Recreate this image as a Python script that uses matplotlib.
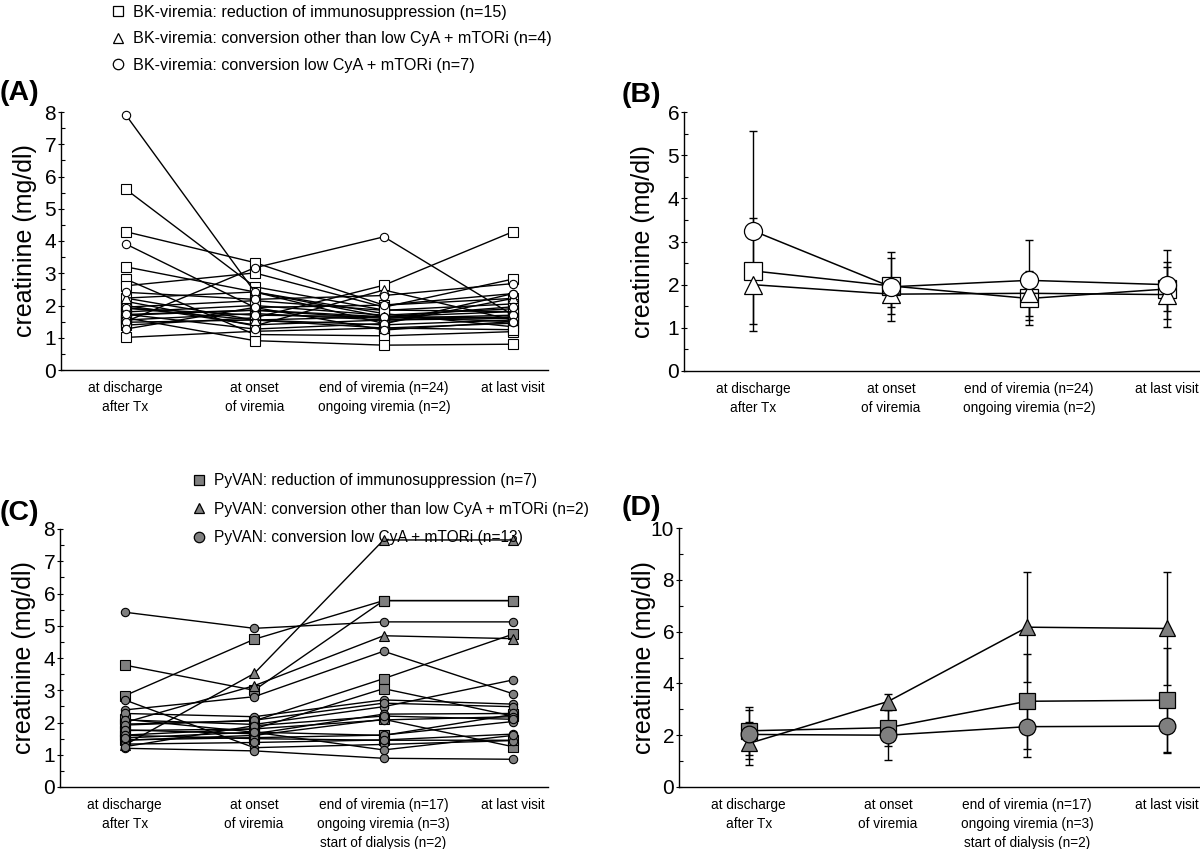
import matplotlib
matplotlib.use("Agg")
import matplotlib.pyplot as plt
from matplotlib.lines import Line2D
from matplotlib.ticker import MultipleLocator

plt.rcParams['font.family'] = ['Liberation Sans', 'DejaVu Sans']

# x categories
cats_bk = ["at discharge\nafter Tx", "at onset\nof viremia",
           "end of viremia (n=24)\nongoing viremia (n=2)", "at last visit"]
cats_pv = ["at discharge\nafter Tx", "at onset\nof viremia",
           "end of viremia (n=17)\nongoing viremia (n=3)\nstart of dialysis (n=2)", "at last visit"]

# (A) BK-viremia, individual patients (mg/dl)
bk_square = [
    [5.61, 2.58, 1.86, 1.81],
    [4.29, 3.33, 2.01, 2.22],
    [3.20, 2.42, 1.75, 1.34],
    [2.82, 1.10, 1.06, 1.19],
    [2.61, 3.01, 1.95, 2.82],
    [2.23, 1.55, 1.30, 1.45],
    [1.39, 1.62, 2.63, 4.29],
    [1.62, 0.91, 0.77, 0.80],
    [1.01, 1.20, 1.30, 1.25],
    [1.55, 1.75, 1.55, 1.65],
    [1.70, 1.85, 1.60, 1.70],
    [1.80, 2.00, 1.70, 1.90],
    [1.48, 1.55, 1.40, 1.55],
    [1.95, 2.15, 1.85, 2.05],
    [2.00, 1.40, 1.55, 1.60],
]
bk_triangle = [
    [2.13, 1.37, 2.48, 1.55],
    [1.92, 1.55, 1.65, 1.81],
    [2.23, 2.42, 1.44, 2.22],
    [1.72, 1.86, 1.65, 1.62],
]
bk_circle = [
    [7.92, 2.42, 1.65, 1.50],
    [3.91, 1.94, 2.01, 2.37],
    [1.50, 3.17, 4.13, 1.70],
    [2.41, 2.19, 2.31, 2.68],
    [1.92, 1.70, 1.65, 1.96],
    [1.73, 1.27, 1.44, 2.37],
    [1.27, 1.94, 1.24, 1.50],
]

# (B) BK-viremia, mean and SD
bk_mean_square = [2.32, 1.97, 1.68, 1.90]
bk_sd_square = [1.23, 0.64, 0.62, 0.52]
bk_mean_triangle = [2.00, 1.78, 1.80, 1.77]
bk_sd_triangle = [0.18, 0.30, 0.52, 0.75]
bk_mean_circle = [3.25, 1.95, 2.10, 2.00]
bk_sd_circle = [2.32, 0.80, 0.93, 0.80]

# (C) PyVAN, individual patients
pv_square = [
    [3.78, 3.00, 5.78, 5.78],
    [2.83, 4.58, 5.78, 5.78],
    [1.95, 2.05, 3.36, 4.74],
    [1.75, 1.80, 3.05, 2.20],
    [1.45, 1.60, 2.10, 1.25],
    [1.60, 1.50, 1.45, 1.45],
    [2.10, 1.70, 1.60, 2.25],
]
pv_triangle = [
    [1.30, 3.52, 7.66, 7.66],
    [2.00, 3.14, 4.69, 4.60],
]
pv_circle = [
    [5.42, 4.92, 5.12, 5.12],
    [2.39, 2.80, 4.21, 2.89],
    [2.70, 1.22, 1.32, 1.44],
    [2.28, 2.18, 2.70, 2.57],
    [2.08, 1.94, 2.49, 3.32],
    [1.92, 2.07, 2.60, 2.49],
    [1.77, 1.65, 2.26, 2.28],
    [1.61, 1.80, 2.08, 2.18],
    [1.46, 1.53, 1.61, 2.03],
    [1.33, 1.38, 1.46, 1.64],
    [1.20, 1.12, 0.89, 0.86],
    [1.25, 1.90, 2.20, 2.10],
    [1.52, 1.70, 1.15, 1.60],
]

# (D) PyVAN, mean and SD
pv_mean_square = [2.17, 2.29, 3.31, 3.35]
pv_sd_square = [0.93, 0.70, 1.83, 2.00]
pv_mean_triangle = [1.68, 3.30, 6.17, 6.12]
pv_sd_triangle = [0.84, 0.30, 2.12, 2.18]
pv_mean_circle = [2.03, 2.00, 2.33, 2.35]
pv_sd_circle = [0.93, 0.97, 1.16, 1.05]

legend_bk = ["BK-viremia: reduction of immunosuppression (n=15)",
             "BK-viremia: conversion other than low CyA + mTORi (n=4)",
             "BK-viremia: conversion low CyA + mTORi (n=7)"]
legend_pv = ["PyVAN: reduction of immunosuppression (n=7)",
             "PyVAN: conversion other than low CyA + mTORi (n=2)",
             "PyVAN: conversion low CyA + mTORi (n=13)"]

GRAY = '#7f7f7f'
x = [0, 1, 2, 3]

fig = plt.figure(figsize=(12, 8.49), dpi=100)
W, H = 1200, 849


def make_ax(left, right, top, bottom):
    return fig.add_axes([left / W, 1 - bottom / H, (right - left) / W, (bottom - top) / H])


def style(ax, cats, ymax, major, minor, xl, labx):
    for s in ['top', 'right']:
        ax.spines[s].set_visible(False)
    for s in ['left', 'bottom']:
        ax.spines[s].set_linewidth(1.0)
    ax.set_ylim(0, ymax)
    ax.set_xlim(*xl)
    ax.yaxis.set_major_locator(MultipleLocator(major))
    ax.yaxis.set_minor_locator(MultipleLocator(minor))
    ax.tick_params(axis='y', which='major', direction='inout', length=5, width=0.8,
                   labelsize=15, pad=1)
    ax.tick_params(axis='y', which='minor', direction='in', length=3, width=0.8)
    ax.set_xticks(x)
    ax.set_xticklabels(cats, fontsize=9.8, linespacing=1.45)
    ax.tick_params(axis='x', length=0, pad=8)
    ax.set_ylabel("creatinine (mg/dl)", fontsize=18)
    ax.yaxis.set_label_coords(labx, 0.5)


def spaghetti(ax, rows, marker, fc):
    for r in rows:
        ax.plot(x, r, color='black', lw=1.0, marker=marker, ms=6.5 if marker != 'o' else 6,
                mfc=fc, mec='black', mew=0.8, clip_on=False, zorder=3)


def means(ax, groups, fc, ms):
    for m, sd, mk in groups:
        ax.errorbar(x, m, yerr=sd, fmt='none', ecolor='black', elinewidth=1.0,
                    capsize=3, capthick=1.0, zorder=2)
    for m, sd, mk in groups:
        ax.plot(x, m, color='black', lw=1.1, marker=mk, ms=ms, mfc=fc,
                mec='black', mew=0.9, zorder=3, clip_on=False)


# (A)
axA = make_ax(61, 548, 112, 370)
spaghetti(axA, bk_square, 's', 'white')
spaghetti(axA, bk_triangle, '^', 'white')
spaghetti(axA, bk_circle, 'o', 'white')
style(axA, cats_bk, 8, 1, 0.5, (-0.5, 3.27), -0.05)

# (B)
axB = make_ax(684, 1200, 112, 371)
means(axB, [(bk_mean_square, bk_sd_square, 's'),
            (bk_mean_triangle, bk_sd_triangle, '^'),
            (bk_mean_circle, bk_sd_circle, 'o')], 'white', 13)
style(axB, cats_bk, 6, 1, 0.5, (-0.5, 3.24), -0.056)

# (C)
axC = make_ax(60, 548, 529, 787)
spaghetti(axC, pv_square, 's', GRAY)
spaghetti(axC, pv_triangle, '^', GRAY)
spaghetti(axC, pv_circle, 'o', GRAY)
style(axC, cats_pv, 8, 1, 0.5, (-0.5, 3.27), -0.05)

# (D)
axD = make_ax(679, 1200, 528, 787)
means(axD, [(pv_mean_square, pv_sd_square, 's'),
            (pv_mean_triangle, pv_sd_triangle, '^'),
            (pv_mean_circle, pv_sd_circle, 'o')], GRAY, 12)
style(axD, cats_pv, 10, 2, 1, (-0.5, 3.24), -0.044)


# legends
def legend(labels, fc, anchor, size, spacing):
    handles = [Line2D([], [], ls='none', marker=mk, ms=7.5, mfc=fc, mec='black', mew=0.9)
               for mk in ['s', '^', 'o']]
    fig.legend(handles, labels, loc='upper left', bbox_to_anchor=anchor,
               frameon=False, fontsize=size, handlelength=1.0, handletextpad=0.45,
               labelspacing=spacing, borderpad=0, borderaxespad=0)


legend(legend_bk, 'white', (110 / W, 1 - 5 / H), 11.6, 0.7)
legend(legend_pv, GRAY, (191 / W, 1 - 473 / H), 11.2, 0.88)

# panel letters
for lab, px, py in [("(A)", 0, 93), ("(B)", 622, 95), ("(C)", 0, 513), ("(D)", 622, 508)]:
    fig.text(px / W, 1 - py / H, lab, fontsize=20.5, fontweight='bold', ha='left', va='center')

fig.savefig("out.png", dpi=100)
